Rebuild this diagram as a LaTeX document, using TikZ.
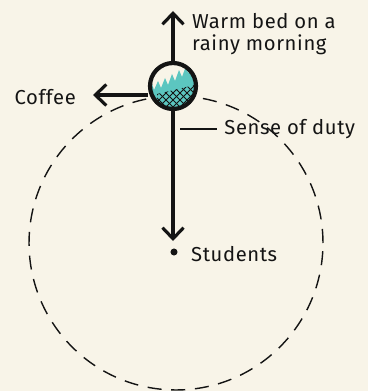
\documentclass[tikz,border=0pt]{standalone}
\usepackage{fontspec}
\setmainfont{Fira Sans}[LetterSpace=3]
\usepackage{tikz}
\usetikzlibrary{positioning,arrows.meta,calc}
\definecolor{PaperCream}{HTML}{F8F4E8}
\definecolor{BallTeal}{HTML}{5CC6C0}
\definecolor{InkBlack}{HTML}{141414}

\begin{document}
\begin{tikzpicture}[
    x=0.02cm, y=-0.02cm,
    forcearrow/.style={
      -{Straight Barb[length=2.2mm,width=4.2mm,line width=1.8pt]},
      line width=1.8pt,
      InkBlack
    },
    orbitline/.style={
      draw=InkBlack,
      line width=0.8pt,
      dash pattern=on 8pt off 5.5pt
    },
    labeltext/.style={
      text=InkBlack,
      align=left,
      font=\fontsize{11.5}{13}\selectfont
    }
  ]

  \fill[PaperCream] (0,0) rectangle (368,391);
  \useasboundingbox (0,0) rectangle (368,391);

  \coordinate (orbit) at (176,243);
  \draw[orbitline] (orbit) circle[radius=2.94cm];

  \node[circle, draw=InkBlack, line width=2.4pt, minimum size=0.92cm, inner sep=0pt,
    fill=PaperCream,
    path picture={
      \coordinate (c) at (path picture bounding box.center);
      \fill[BallTeal] ($(c)+(-30,2)$) -- ($(c)+(-21,-2)$) -- ($(c)+(-19,4)$)
        -- ($(c)+(-15,-5)$) -- ($(c)+(-12,2)$) -- ($(c)+(-8,-8)$)
        -- ($(c)+(-5,-1)$) -- ($(c)+(-1,-12)$) -- ($(c)+(2,-5)$)
        -- ($(c)+(6,-16)$) -- ($(c)+(9,-9)$) -- ($(c)+(13,-20)$)
        -- ($(c)+(15,-13)$) -- ($(c)+(30,-26)$)
        -- ($(c)+(30,30)$) -- ($(c)+(-30,30)$) -- cycle;
      \begin{scope}
        \clip ($(c)+(-16,30)$) -- ($(c)+(-16,8)$) -- ($(c)+(30,-3)$)
          -- ($(c)+(30,30)$) -- cycle;
        \foreach \k in {-42,-35,...,42}{
          \draw[InkBlack, line width=0.5pt] ($(c)+(\k-25,-25)$) -- ($(c)+(\k+25,25)$);
          \draw[InkBlack, line width=0.5pt] ($(c)+(\k-25,25)$) -- ($(c)+(\k+25,-25)$);
        }
      \end{scope}
    }] (ball) at (173,86) {};

  \coordinate (bedtip) at (173,11);
  \coordinate (coffeetip) at (93,95);
  \coordinate (studtip) at (173,241);
  \coordinate (dutyfoot) at (180,129);

  \node[circle, fill=InkBlack, minimum size=4pt, inner sep=0pt] (dot) at (174,252) {};

  \node[labeltext, anchor=west] (bed) at (186,34) {Warm bed on a\\rainy morning};
  \node[labeltext, anchor=east] (coffee) at (82,97) {Coffee};
  \node[labeltext, anchor=west] (students) at (185,254) {Students};
  \node[labeltext, anchor=west, inner sep=4pt] (duty) at (217,129) {Sense of duty};

  \draw[forcearrow] (ball.north) -- (bedtip);
  \draw[forcearrow] (ball.west |- coffeetip) -- (coffeetip);
  \draw[forcearrow] (ball.south) -- (studtip);
  \draw[line width=0.9pt, InkBlack] (dutyfoot) -- (duty.west);

\end{tikzpicture}
\end{document}
